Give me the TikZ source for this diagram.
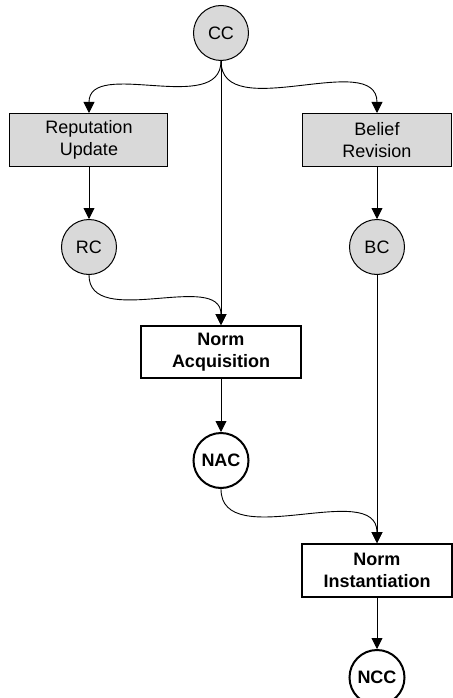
\documentclass[tikz,border=0pt]{standalone}
\usepackage{fontspec}
\setmainfont{Liberation Sans}
\usetikzlibrary{positioning}
\usetikzlibrary{arrows.meta}

\begin{document}
\begin{tikzpicture}[x=1pt,y=1pt,
        font=\fontsize{18}{21.6}\selectfont,
        >={Triangle[length=11pt,width=11pt]},
        cstate/.style={circle, draw, fill=black!15, minimum size=55pt, inner sep=0pt, line width=1pt},
        ostate/.style={circle, draw, fill=white, minimum size=55pt, inner sep=0pt, line width=2pt, font=\fontsize{18}{21.6}\selectfont\bfseries},
        proc/.style={rectangle, draw, fill=black!15, minimum height=53pt, inner sep=0pt, align=center, line width=1pt},
        task/.style={rectangle, draw, fill=white, minimum height=52pt, inner sep=0pt, align=center, line width=2pt, font=\fontsize{18}{21.6}\selectfont\bfseries},
        link/.style={->, line width=0.9pt}]
        \useasboundingbox (-221,33) rectangle (231,-665);
        % Nodes
        \node[cstate]                                                     (cc)  {CC};
        \node[proc, minimum width=158pt, below=52pt of cc, xshift=-132pt] (ru)  {Reputation\\Update};
        \node[proc, minimum width=149pt, below=52pt of cc, xshift=156pt]  (br)  {Belief\\Revision};
        \node[cstate, below=52pt of ru]                                   (rc)  {RC};
        \node[cstate, below=52pt of br]                                   (bc)  {BC};
        \node[task, minimum width=159pt, below=50pt of rc, xshift=132pt]  (na)  {Norm\\Acquisition};
        \node[ostate, below=53pt of na]                                   (nac) {NAC};
        \node[task, minimum width=150pt, minimum height=53pt, below=54pt of nac, xshift=156pt] (ni) {Norm\\Instantiation};
        \node[ostate, below=51pt of ni]                                   (ncc) {NCC};
        % Edges
        \draw[link] (cc.south) to[out=-90, in=90] (ru.north);
        \draw[link] (cc.south) to[out=-90, in=90] (br.north);
        \draw[link] (cc.south) -- (na.north);
        \draw[link] (rc.south) to[out=-90, in=90] (na.north);
        \draw[link] (nac.south) to[out=-90, in=90] (ni.north);
        \foreach \a/\b in {ru/rc, br/bc, na/nac, bc/ni, ni/ncc}
            \draw[link] (\a) -- (\b);
    \end{tikzpicture}
\end{document}
